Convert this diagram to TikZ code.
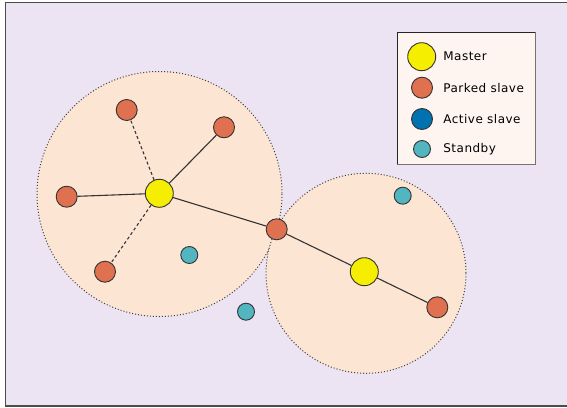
\documentclass[tikz,border=0pt]{standalone}
\usepackage{fontspec}
\setmainfont{DejaVu Sans}
\newfontfamily\legfont[LetterSpace=4]{DejaVu Sans}
\usetikzlibrary{calc}

\definecolor{bglav}{HTML}{ECE4F2}
\definecolor{zonefill}{HTML}{FDE5D4}
\definecolor{legfill}{HTML}{FFF5F0}
\definecolor{mastercol}{HTML}{F5EE00}
\definecolor{parkedcol}{HTML}{DF7050}
\definecolor{activecol}{HTML}{0072B0}
\definecolor{standbycol}{HTML}{52B5C0}

\begin{document}
\begin{tikzpicture}[x=1pt,y=-1pt,thick,
  every node/.style={inner sep=0pt},
  master/.style={circle,draw=black!80,line width=0.9pt,fill=mastercol,minimum size=28pt},
  parked/.style={circle,draw=black!80,line width=0.9pt,fill=parkedcol,minimum size=21pt},
  active/.style={circle,draw=black!80,line width=0.9pt,fill=activecol,minimum size=21pt},
  standby/.style={circle,draw=black!80,line width=0.9pt,fill=standbycol,minimum size=17pt},
  zone/.style={draw=black!75,line width=1pt,dash pattern=on 1pt off 2pt,fill=zonefill},
  link/.style={draw=black!80,line width=1.1pt},
  legtext/.style={anchor=west,font=\legfont\fontsize{12}{14}\selectfont}]

\useasboundingbox (0,0) rectangle (567,407);

% background and frame
\fill [bglav] (5.5,2.5) rectangle (567,406);
\draw [black!70,line width=1.5pt] (567,2.5) -- (5.5,2.5) -- (5.5,406) -- (567,406);

% piconets
\draw [zone] (159.5,194) circle (122.5);
\draw [zone] (366,273.3) circle (100);

% nodes
\node [master] (m1) at (159.3,193.3) {};
\node [master] (m2) at (364.3,271.7) {};
\node [parked] (p1) at (126.7,110) {};
\node [parked] (p2) at (224,127.3) {};
\node [parked] (p3) at (66.7,196.7) {};
\node [parked] (p4) at (105,271.7) {};
\node [parked] (pb) at (276.7,229.3) {};
\node [parked] (p5) at (437.3,307.3) {};
\node [standby] (s1) at (189.3,255) {};
\node [standby] (s2) at (246,311.7) {};
\node [standby] (s3) at (402.7,195.7) {};

% links
\draw [link,dash pattern=on 3pt off 2.5pt] (m1) -- (p1);
\draw [link] (m1) -- (p2);
\draw [link] (m1) -- (p3);
\draw [link,dash pattern=on 3pt off 2.5pt] (m1) -- (p4);
\draw [link] (m1) -- (pb);
\draw [link] (pb) -- (m2);
\draw [link] (m2) -- (p5);

% legend
\draw [black!85,line width=0.8pt,fill=legfill] (397,32) rectangle (535,164);
\draw [black!55,line width=1.4pt] (535.5,32) -- (535.5,164.5) -- (397,164.5);
\node [master] (lm) at (421.7,56.7) {};
\node [parked] (lp) at (422,87.7) {};
\node [active] (la) at (422,119) {};
\node [standby] (ls) at (422,149) {};
\node [legtext] (tm) at (443,56.7) {Master};
\node [legtext] (tp) at (443,87.7) {Parked slave};
\node [legtext] (ta) at (443,119) {Active slave};
\node [legtext] (ts) at (443,149) {Standby};

\end{tikzpicture}
\end{document}
